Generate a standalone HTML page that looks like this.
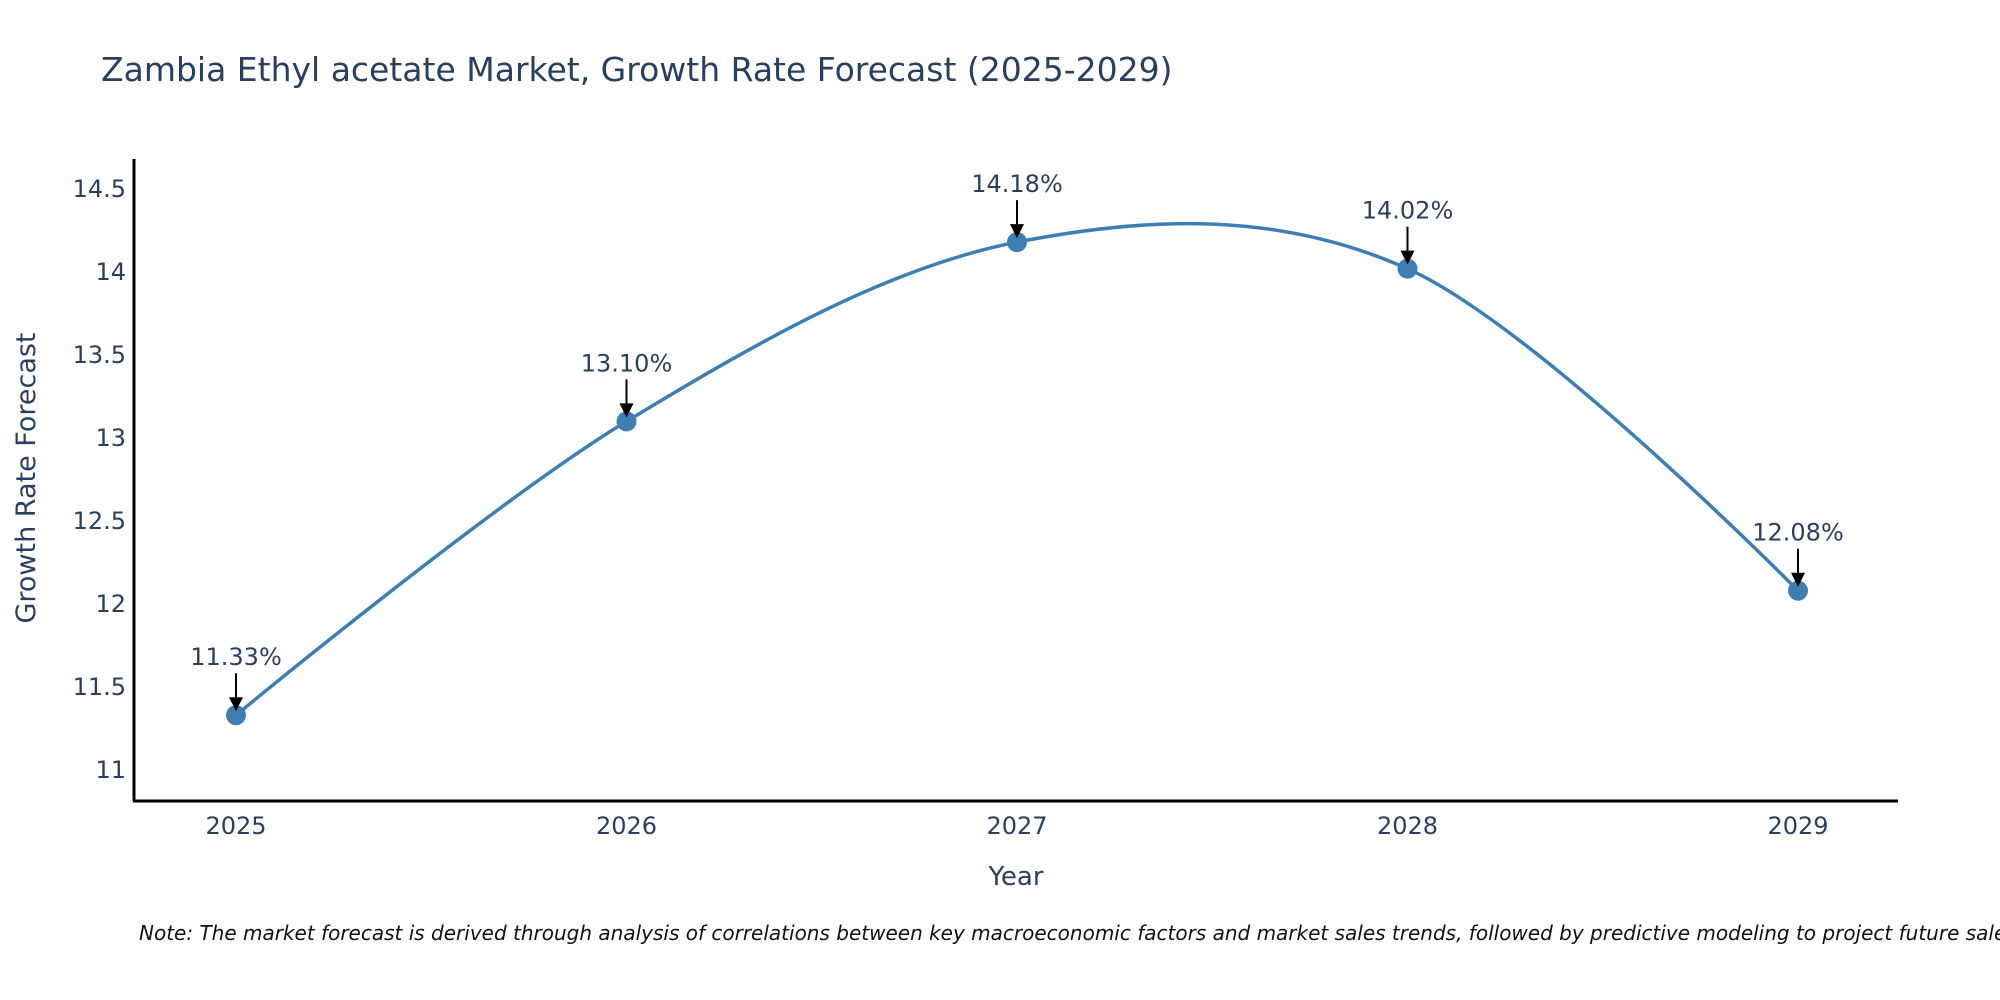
<!DOCTYPE html>
<html><head><meta charset="utf-8"><style>
body{margin:0;background:#fff;}
svg{display:block;font-family:"DejaVu Sans","Liberation Sans",sans-serif;}
</style></head><body>
<svg id="chart" width="2000" height="1000" viewBox="0 0 2000 1000">
<text x="101" y="81" font-size="33" fill="#2a3f5f">Zambia Ethyl acetate Market, Growth Rate Forecast (2025-2029)</text>
<g id="yticks"></g>
<g id="xticks"></g>
<path id="line" fill="none" stroke="#3d7fb2" stroke-width="3.5"></path>
<g id="marks"></g>
<line x1="134" y1="159" x2="134" y2="801" stroke="#000" stroke-width="3"/>
<line x1="133" y1="801" x2="1898" y2="801" stroke="#000" stroke-width="3"/>
<text x="1016" y="885" font-size="26" fill="#2a3f5f" text-anchor="middle">Year</text>
<text transform="translate(35,478) rotate(-90)" font-size="27" fill="#2a3f5f" text-anchor="middle">Growth Rate Forecast</text>
<text x="139" y="940" font-size="20" font-style="italic" fill="#111">Note: The market forecast is derived through analysis of correlations between key macroeconomic factors and market sales trends, followed by predictive modeling to project future sales.</text>
</svg>
<script>
const categories=["2025","2026","2027","2028","2029"];
const values=[11.33,13.10,14.18,14.02,12.08];
const labels=["11.33%","13.10%","14.18%","14.02%","12.08%"];
const yTicks=[11,11.5,12,12.5,13,13.5,14,14.5];
const yTickLabels=["11","11.5","12","12.5","13","13.5","14","14.5"];
const NS="http://www.w3.org/2000/svg";
function xs(i){return 236+i*390.5;}
function ys(v){return 770-(v-11)*166;}
const yt=document.getElementById('yticks');
yTicks.forEach((t,i)=>{
 const e=document.createElementNS(NS,'text');
 
 
 e.setAttribute('x',126);e.setAttribute('y',ys(t)+8);
 e.setAttribute('text-anchor','end');e.setAttribute('font-size','24');e.setAttribute('fill','#2a3f5f');
 e.textContent=yTickLabels[i];yt.appendChild(e);
});
const xt=document.getElementById('xticks');
categories.forEach((c,i)=>{
 const e=document.createElementNS(NS,'text');
 
 
 e.setAttribute('x',xs(i));e.setAttribute('y',834);
 e.setAttribute('text-anchor','middle');e.setAttribute('font-size','24');e.setAttribute('fill','#2a3f5f');
 e.textContent=c;xt.appendChild(e);
});
const P=values.map((v,i)=>[xs(i),ys(v)]);
const n=P.length-1;
function tan(i){
 const a=P[Math.max(0,i-1)],c=P[Math.min(n,i+1)];
 const k=(i===0||i===n)?1/3:1/6;
 return [(c[0]-a[0])*k,(c[1]-a[1])*k];
}
let d=`M${P[0][0]},${P[0][1]}`;
for(let i=0;i<n;i++){
 const t1=tan(i),t2=tan(i+1);
 let c1=[P[i][0]+t1[0],P[i][1]+t1[1]],c2=[P[i+1][0]-t2[0],P[i+1][1]-t2[1]];
 if(i===0)c1=P[0];
 if(i===n-1)c2=P[n];
 d+=`C${c1[0]},${c1[1]} ${c2[0]},${c2[1]} ${P[i+1][0]},${P[i+1][1]}`;
}
document.getElementById('line').setAttribute('d',d);
const mk=document.getElementById('marks');
P.forEach((p,i)=>{
 const c=document.createElementNS(NS,'circle');
 
 
 c.setAttribute('cx',p[0]);c.setAttribute('cy',p[1]);c.setAttribute('r',10);c.setAttribute('fill','#3d7fb2');
 mk.appendChild(c);
 const l=document.createElementNS(NS,'line');
 
 
 l.setAttribute('x1',p[0]);l.setAttribute('y1',p[1]-42);l.setAttribute('x2',p[0]);l.setAttribute('y2',p[1]-14);
 l.setAttribute('stroke','#000');l.setAttribute('stroke-width','2');mk.appendChild(l);
 const h=document.createElementNS(NS,'polygon');
 
 
 h.setAttribute('points',`${p[0]-7},${p[1]-18} ${p[0]+7},${p[1]-18} ${p[0]},${p[1]-4}`);
 h.setAttribute('fill','#000');mk.appendChild(h);
 const t=document.createElementNS(NS,'text');
 
 
 t.setAttribute('x',p[0]);t.setAttribute('y',p[1]-50);t.setAttribute('text-anchor','middle');
 t.setAttribute('font-size','24');t.setAttribute('fill','#2a3f5f');
 t.textContent=labels[i];mk.appendChild(t);
});
</script>
</body></html>
